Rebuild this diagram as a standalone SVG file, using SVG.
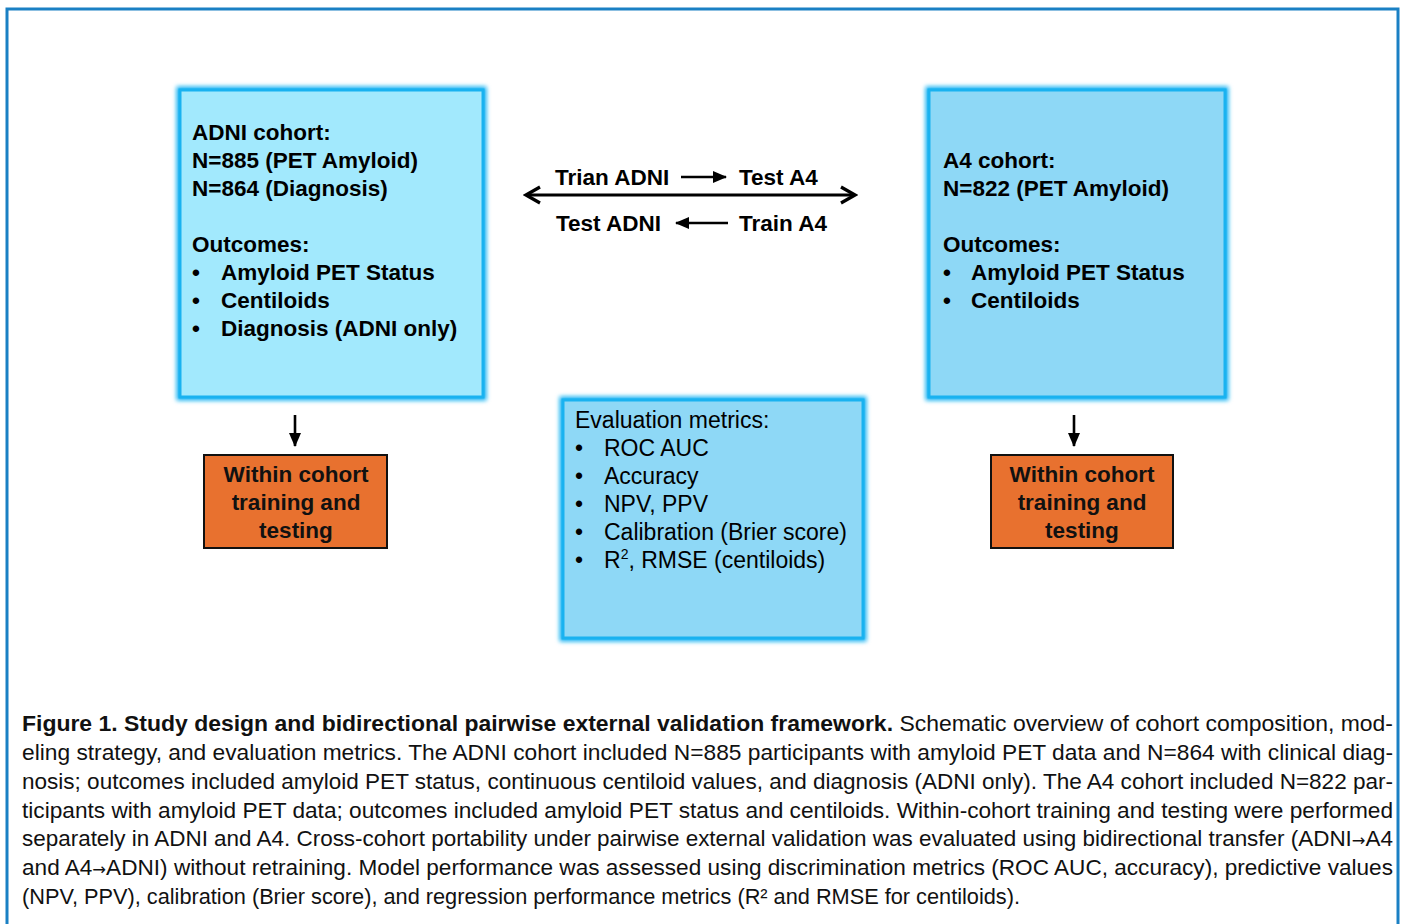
<svg xmlns="http://www.w3.org/2000/svg" width="1405" height="924" viewBox="0 0 1405 924">
<defs>
<filter id="glow" x="-10%" y="-10%" width="120%" height="120%">
<feGaussianBlur stdDeviation="2.2"/>
</filter>
<marker id="chev" viewBox="0 0 20 20" refX="17" refY="10" markerWidth="20" markerHeight="20" markerUnits="userSpaceOnUse" orient="auto-start-reverse">
<polyline points="3,2 17,10 3,18" fill="none" stroke="#000" stroke-width="3.2" stroke-linejoin="miter"/>
</marker>
<marker id="tri" viewBox="0 0 14 12" refX="13" refY="6" markerWidth="14" markerHeight="12" markerUnits="userSpaceOnUse" orient="auto">
<polygon points="0,0 14,6 0,12" fill="#000"/>
</marker>
<marker id="triD" viewBox="0 0 12 14" refX="6" refY="13" markerWidth="12" markerHeight="14" markerUnits="userSpaceOnUse" orient="0">
<polygon points="0,0 12,0 6,14" fill="#000"/>
</marker>
</defs>
<style>
.b{font-family:"Liberation Sans",Arial,sans-serif;font-weight:bold;font-size:22.5px;fill:#000}
.r{font-family:"Liberation Sans",Arial,sans-serif;font-size:23px;fill:#000}
.c{font-family:"Liberation Sans",Arial,sans-serif;font-size:22px;fill:#111}
.ar{font-family:"DejaVu Sans",sans-serif}
.glowr{fill:none;stroke:#10b0f2;stroke-width:7;filter:url(#glow)}
.edge{stroke:#19b2f0;stroke-width:3}
.org{fill:#e8712f;stroke:#111;stroke-width:2}
.ob{font-family:"Liberation Sans",Arial,sans-serif;font-weight:bold;font-size:22.5px;fill:#111;text-anchor:middle}
</style>
<rect x="0" y="0" width="1405" height="924" fill="#fff"/>
<rect x="7" y="9" width="1391" height="930" fill="none" stroke="#1a80c4" stroke-width="3"/>

<g id="adni">
<rect class="glowr" x="180" y="90" width="303" height="307"/>
<rect class="edge" x="180" y="90" width="303" height="307" fill="#a2e9fd"/>
<text class="b" x="192" y="140">ADNI cohort:</text>
<text class="b" x="192" y="168">N=885 (PET Amyloid)</text>
<text class="b" x="192" y="196">N=864 (Diagnosis)</text>
<text class="b" x="192" y="252">Outcomes:</text>
<text class="b" x="192" y="280">•</text><text class="b" x="221" y="280">Amyloid PET Status</text>
<text class="b" x="192" y="308">•</text><text class="b" x="221" y="308">Centiloids</text>
<text class="b" x="192" y="336">•</text><text class="b" x="221" y="336">Diagnosis (ADNI only)</text>
</g>

<g id="a4">
<rect class="glowr" x="929" y="90" width="296" height="307"/>
<rect class="edge" x="929" y="90" width="296" height="307" fill="#8ed8f6"/>
<text class="b" x="943" y="168">A4 cohort:</text>
<text class="b" x="943" y="196">N=822 (PET Amyloid)</text>
<text class="b" x="943" y="252">Outcomes:</text>
<text class="b" x="943" y="280">•</text><text class="b" x="971" y="280">Amyloid PET Status</text>
<text class="b" x="943" y="308">•</text><text class="b" x="971" y="308">Centiloids</text>
</g>

<g id="metrics">
<rect class="glowr" x="563" y="400" width="300" height="238"/>
<rect class="edge" x="563" y="400" width="300" height="238" fill="#8ed8f6"/>
<text class="r" x="575" y="428">Evaluation metrics:</text>
<text class="r" x="575" y="456">•</text><text class="r" x="604" y="456">ROC AUC</text>
<text class="r" x="575" y="484">•</text><text class="r" x="604" y="484">Accuracy</text>
<text class="r" x="575" y="512">•</text><text class="r" x="604" y="512">NPV, PPV</text>
<text class="r" x="575" y="540">•</text><text class="r" x="604" y="540">Calibration (Brier score)</text>
<text class="r" x="575" y="568">•</text><text class="r" x="604" y="568">R<tspan font-size="14" dy="-9">2</tspan><tspan dy="9">, RMSE (centiloids)</tspan></text>
</g>

<g id="within-adni">
<rect class="org" x="204" y="455" width="183" height="93"/>
<text class="ob" x="296" y="482">Within cohort</text>
<text class="ob" x="296" y="510">training and</text>
<text class="ob" x="296" y="538">testing</text>
</g>

<g id="within-a4">
<rect class="org" x="991" y="455" width="182" height="93"/>
<text class="ob" x="1082" y="482">Within cohort</text>
<text class="ob" x="1082" y="510">training and</text>
<text class="ob" x="1082" y="538">testing</text>
</g>

<g id="transfer-labels">
<text class="b" x="555" y="185">Trian ADNI</text>
<text class="b" x="739" y="185">Test A4</text>
<text class="b" x="556" y="231">Test ADNI</text>
<text class="b" x="739" y="231">Train A4</text>
</g>

<g id="connectors" stroke="#000" fill="none">
<line x1="526" y1="195" x2="855" y2="195" stroke-width="3" marker-start="url(#chev)" marker-end="url(#chev)"/>
<line x1="681" y1="177" x2="726" y2="177" stroke-width="2.6" marker-end="url(#tri)"/>
<line x1="728" y1="223" x2="676" y2="223" stroke-width="2.6" marker-end="url(#tri)"/>
<line x1="295" y1="415" x2="295" y2="446" stroke-width="2.6" marker-end="url(#triD)"/>
<line x1="1074" y1="415" x2="1074" y2="446" stroke-width="2.6" marker-end="url(#triD)"/>
</g>

<g id="caption">
<text class="c" x="22" y="731" textLength="1371" lengthAdjust="spacingAndGlyphs"><tspan font-weight="bold">Figure 1. Study design and bidirectional pairwise external validation framework.</tspan> Schematic overview of cohort composition, mod-</text>
<text class="c" x="22" y="760" textLength="1371" lengthAdjust="spacingAndGlyphs">eling strategy, and evaluation metrics. The ADNI cohort included N=885 participants with amyloid PET data and N=864 with clinical diag-</text>
<text class="c" x="22" y="789" textLength="1371" lengthAdjust="spacingAndGlyphs">nosis; outcomes included amyloid PET status, continuous centiloid values, and diagnosis (ADNI only). The A4 cohort included N=822 par-</text>
<text class="c" x="22" y="818" textLength="1371" lengthAdjust="spacingAndGlyphs">ticipants with amyloid PET data; outcomes included amyloid PET status and centiloids. Within-cohort training and testing were performed</text>
<text class="c" x="22" y="846" textLength="1371" lengthAdjust="spacingAndGlyphs">separately in ADNI and A4. Cross-cohort portability under pairwise external validation was evaluated using bidirectional transfer (ADNI<tspan class="ar" font-size="16">→</tspan>A4</text>
<text class="c" x="22" y="875" textLength="1371" lengthAdjust="spacingAndGlyphs">and A4<tspan class="ar" font-size="16">→</tspan>ADNI) without retraining. Model performance was assessed using discrimination metrics (ROC AUC, accuracy), predictive values</text>
<text class="c" x="22" y="904" textLength="998" lengthAdjust="spacingAndGlyphs">(NPV, PPV), calibration (Brier score), and regression performance metrics (R² and RMSE for centiloids).</text>
</g>
</svg>
